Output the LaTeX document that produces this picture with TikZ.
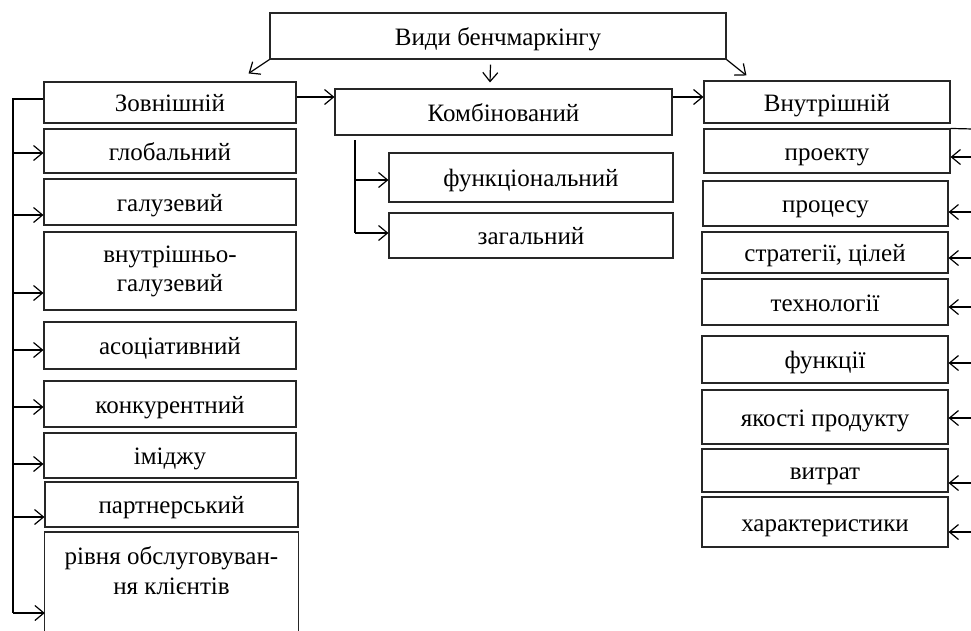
\documentclass[tikz,border=0pt]{standalone}
\usepackage{fontspec}
\setmainfont{Liberation Serif}
\usetikzlibrary{arrows.meta}
\newcommand\mybox[6]{\node[sbox, minimum width={#4-#2}, minimum height={#5-#3}] (#1) at ({(#2+#4)/2},{(#3+#5)/2}) {#6};}
\begin{document}
\begin{tikzpicture}[x=1pt,y=-1pt,
  box/.style={draw=black!85, line width=1.1pt, inner sep=0pt, align=center, font=\fontsize{25}{29}\selectfont},
  sbox/.style={box, text height=18pt, text depth=0pt},
  txt/.style={inner sep=0pt, align=center, font=\fontsize{25}{30}\selectfont},
  boxline/.style={draw=black!85, line width=1.1pt},
  arr/.style={line width=1.2pt, -{Straight Barb[length=9pt,width=15pt,line width=1.2pt]}},
  ln/.style={line width=1.2pt}]
\useasboundingbox (0,0) rectangle (971,630);

% top level
\mybox{top}{270}{13}{726}{59}{Види бенчмаркінгу}
\mybox{zov}{44}{82}{296}{123}{Зовнішній}
\mybox{komb}{335}{89}{672}{135}{Комбінований}
\mybox{vnu}{704}{81}{950}{123}{Внутрішній}

% left column
\mybox{glob}{44}{129}{296}{173}{глобальний}
\mybox{galuz}{44}{179}{296}{225}{галузевий}
\node[box, minimum width=252, minimum height=78] (vnutgal) at (170,271) {внутрішньо-\\галузевий};
\mybox{asoc}{44}{322}{296}{369}{асоціативний}
\mybox{konk}{44}{381}{296}{427}{конкурентний}
\mybox{imidg}{44}{433}{296}{478}{іміджу}
\mybox{partn}{45}{482}{298}{527}{партнерський}
\node[txt, minimum width=253, anchor=north, inner ysep=14pt] (rivn) at (171.5,532) {рівня обслуговуван-\\ня клієнтів};
\draw[boxline] ([yshift=-120]rivn.north west) -- (rivn.north west) -- (rivn.north east) -- ([yshift=-120]rivn.north east);

% middle column
\mybox{func}{389}{153}{673}{202}{функціональний}
\mybox{zag}{389}{213}{673}{258}{загальний}

% right column
\mybox{proj}{704}{129}{950}{173}{проекту}
\mybox{proc}{703}{181}{948}{226}{процесу}
\mybox{strat}{702}{232}{948}{273}{стратегії, цілей}
\mybox{tech}{702}{279}{948}{325}{технології}
\mybox{funk}{702}{336}{948}{383}{функції}
\mybox{yak}{702}{390}{948}{444}{якості продукту}
\mybox{vytr}{702}{449}{948}{492}{витрат}
\mybox{char}{702}{497}{948}{547}{характеристики}

% arrows from top box
\draw[arr] (top.south west) -- ([shift={(-48,-8)}]zov.north east);
\draw[arr] (top.south east) -- ([shift={(43,-5)}]vnu.north west);
\draw[arr] ([shift={(-7.5,5)}]top.south) -- ([shift={(-13.5,-6)}]komb.north);

% horizontal chain
\draw[arr] (zov.east |- 0,97) -- (komb.west |- 0,97);
\draw[arr] (komb.east |- 0,97) -- (vnu.west |- 0,97);

% left bus
\coordinate (lt) at (13,99);
\coordinate (lb) at (13,613);
\draw[ln] (zov.west |- lt) -- (lt) -- (lb);
\draw[arr] (lt |- 0,153) -- (glob.west |- 0,153);
\draw[arr] (lt |- 0,215) -- (galuz.west |- 0,215);
\draw[arr] (lt |- 0,293) -- (vnutgal.west |- 0,293);
\draw[arr] (lt |- 0,350) -- (asoc.west |- 0,350);
\draw[arr] (lt |- 0,407) -- (konk.west |- 0,407);
\draw[arr] (lt |- 0,464) -- (imidg.west |- 0,464);
\draw[arr] (lt |- 0,517) -- (partn.west |- 0,517);
\draw[arr] (lb) -- (rivn.west |- lb);

% middle bus
\coordinate (mt) at (355,140);
\coordinate (mb) at (355,233);
\draw[ln] (mt) -- (mb);
\draw[arr] (mt |- 0,180) -- (func.west |- 0,180);
\draw[arr] (mb) -- (zag.west |- mb);

% right bus (off the page edge)
\coordinate (rt) at (973,129);
\draw[ln] (proj.north east) -- (rt) -- (973,540);
\draw[arr] (rt |- 0,157) -- (proj.east |- 0,157);
\draw[arr] (rt |- 0,212) -- (proc.east |- 0,212);
\draw[arr] (rt |- 0,258) -- (strat.east |- 0,258);
\draw[arr] (rt |- 0,307) -- (tech.east |- 0,307);
\draw[arr] (rt |- 0,363) -- (funk.east |- 0,363);
\draw[arr] (rt |- 0,418) -- (yak.east |- 0,418);
\draw[arr] (rt |- 0,483) -- (vytr.east |- 0,483);
\draw[arr] (rt |- 0,532) -- (char.east |- 0,532);
\end{tikzpicture}
\end{document}
